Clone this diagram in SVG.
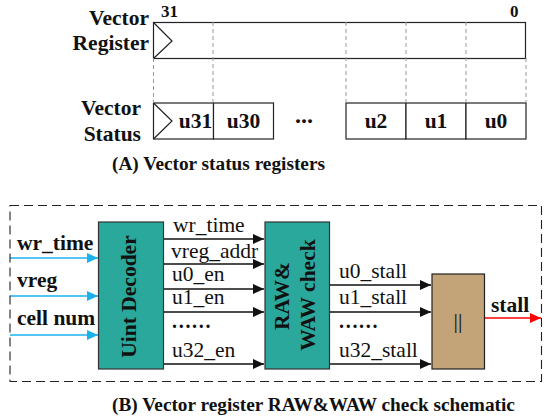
<svg xmlns="http://www.w3.org/2000/svg" width="550" height="416" viewBox="0 0 550 416">
<style>
text{font-family:"Liberation Serif","Times New Roman",serif;fill:#111}
.b{font-weight:bold}
.t{font-size:21.5px}
.c{font-size:21.5px}
.d{font-size:20px;font-weight:bold;letter-spacing:1.700px}
.cap{font-size:19.3px;font-weight:bold}
.box{fill:#fff;stroke:#222;stroke-width:1.2}
.teal{fill:#2ba89c;stroke:#333;stroke-width:1.2}
.tan{fill:#c3a478;stroke:#222;stroke-width:1.2}
.dash{stroke:#999;stroke-width:1;stroke-dasharray:4 3;fill:none}
.k{stroke:#111;stroke-width:1.3;fill:none;marker-end:url(#ak)}
.bl{stroke:#19b2ee;stroke-width:1.3;fill:none;marker-end:url(#ab)}
.r{stroke:#f00;stroke-width:1.3;fill:none;marker-end:url(#ar)}
</style>
<defs>
<marker id="ak" markerUnits="userSpaceOnUse" markerWidth="12" markerHeight="12" refX="11" refY="6" orient="auto"><path d="M0 1L11 6L0 11Z" fill="#111"/></marker>
<marker id="ab" markerUnits="userSpaceOnUse" markerWidth="12" markerHeight="12" refX="11" refY="6" orient="auto"><path d="M0 1L11 6L0 11Z" fill="#19b2ee"/></marker>
<marker id="ar" markerUnits="userSpaceOnUse" markerWidth="12" markerHeight="12" refX="11" refY="6" orient="auto"><path d="M0 1L11 6L0 11Z" fill="#f00"/></marker>
</defs>
<rect width="550" height="416" fill="#fff"/>
<g id="vector-register">
<rect class="box" x="153.500" y="22.500" width="372" height="36"/>
<path d="M153.500 22.500L172 41L153.500 58.500" fill="none" stroke="#222" stroke-width="1.2"/>
<text class="b t" x="149" y="25" text-anchor="end">Vector</text>
<text class="b t" x="149" y="50" text-anchor="end">Register</text>
<text class="b" x="161" y="17" font-size="17">31</text>
<text class="b" x="510" y="17" font-size="17">0</text>
</g>
<g id="vector-status">
<rect class="box" x="153.500" y="103" width="60" height="36"/>
<rect class="box" x="213.500" y="103" width="60" height="36"/>
<rect class="box" x="346" y="103" width="60" height="36"/>
<rect class="box" x="406" y="103" width="60" height="36"/>
<rect class="box" x="466" y="103" width="60" height="36"/>
<path d="M153.500 103L172 121L153.500 139" fill="none" stroke="#222" stroke-width="1.2"/>
<text class="b t" x="141" y="115" text-anchor="end">Vector</text>
<text class="b t" x="141" y="141" text-anchor="end">Status</text>
<text class="b t" x="195.500" y="128" text-anchor="middle">u31</text>
<text class="b t" x="243.500" y="128" text-anchor="middle">u30</text>
<text class="b t" x="376" y="128" text-anchor="middle">u2</text>
<text class="b t" x="436" y="128" text-anchor="middle">u1</text>
<text class="b t" x="496" y="128" text-anchor="middle">u0</text>
<text class="b" x="304" y="122.500" font-size="24" text-anchor="middle">...</text>
<text class="cap" x="112" y="170">(A) Vector status registers</text>
</g>
<g id="connectors">
<path class="dash" d="M153.500 58V103M213 22V103M346 22V103M406 22V103M466 22V103M526 58V103"/>
<path class="k" d="M163 239H264"/>
<path class="k" d="M163 264H264"/>
<path class="k" d="M163 289H264"/>
<path class="k" d="M163 312H264"/>
<path class="k" d="M163 364H264"/>
<path class="k" d="M329 285H431"/>
<path class="k" d="M329 312H431"/>
<path class="k" d="M329 364H431"/>
<path class="bl" d="M10 258H98"/>
<path class="bl" d="M10 296H98"/>
<path class="bl" d="M10 335H98"/>
<path class="r" d="M484 318H541"/>
</g>
<g id="frame">
<rect x="10" y="205.500" width="531.500" height="176" fill="none" stroke="#222" stroke-width="1.1" stroke-dasharray="9 5"/>
</g>
<g id="uint-decoder">
<rect class="teal" x="98.500" y="222" width="65" height="147"/>
<text class="b" font-size="21.500" transform="translate(136 296.500) rotate(-90)" text-anchor="middle">Uint Decoder</text>
</g>
<g id="raw-waw-check">
<rect class="teal" x="265" y="222" width="64.500" height="147"/>
<text class="b" font-size="21.500" transform="translate(289 296) rotate(-90)" text-anchor="middle">RAW&amp;</text>
<text class="b" font-size="21.500" transform="translate(315 295) rotate(-90)" text-anchor="middle">WAW check</text>
</g>
<g id="or-gate">
<rect class="tan" x="432" y="274" width="52.500" height="95"/>
<text x="458" y="328" font-size="22" text-anchor="middle">||</text>
</g>
<g id="labels">
<text class="b c" x="17" y="250">wr_time</text>
<text class="b c" x="17" y="287">vreg</text>
<text class="b c" x="17" y="325">cell num</text>
<text class="c" x="173" y="232">wr_time</text>
<text class="c" x="171" y="257.500">vreg_addr</text>
<text class="c" x="172" y="281">u0_en</text>
<text class="c" x="172" y="304">u1_en</text>
<text class="d" x="172" y="328">......</text>
<text class="c" x="172" y="357">u32_en</text>
<text class="c" x="339" y="278">u0_stall</text>
<text class="c" x="339" y="304">u1_stall</text>
<text class="d" x="339" y="328">......</text>
<text class="c" x="339" y="357">u32_stall</text>
<text class="b c" x="491" y="312">stall</text>
<text class="cap" x="112" y="411">(B) Vector register RAW&amp;WAW check schematic</text>
</g>
</svg>
